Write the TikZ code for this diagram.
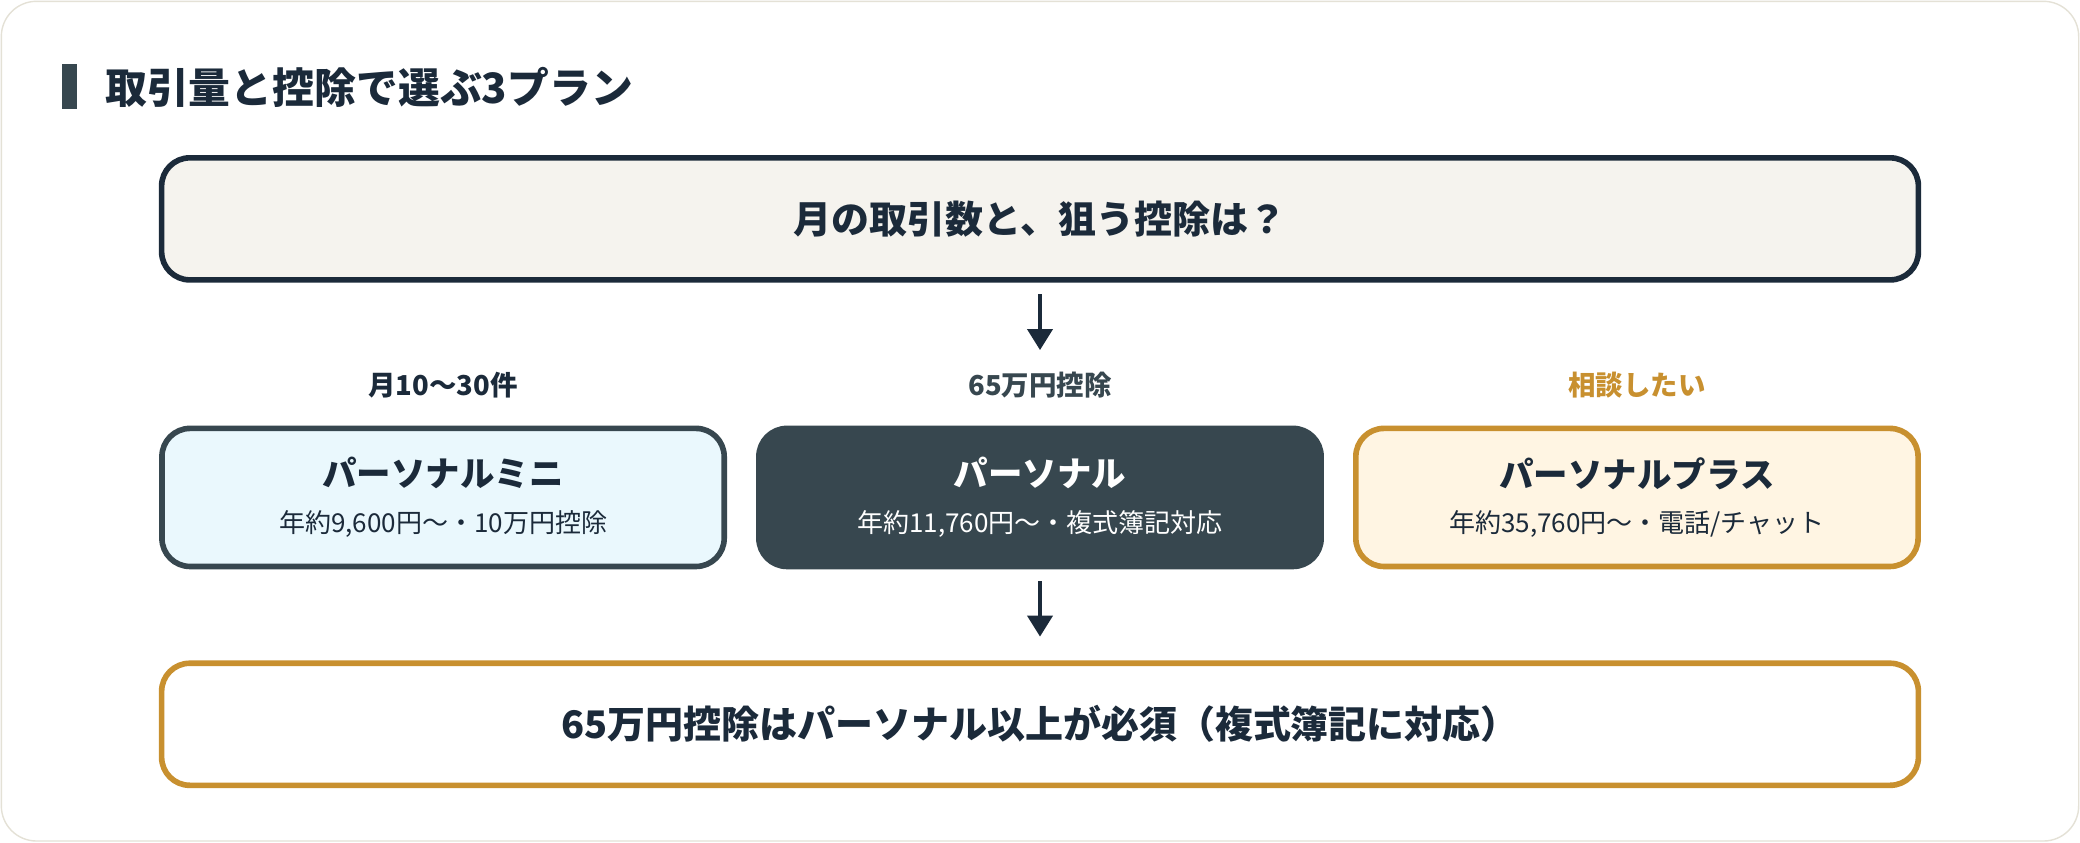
\documentclass[tikz,border=0pt]{standalone}
\usepackage{fontspec}
\setmainfont{Noto Sans CJK JP}
\usetikzlibrary{positioning, arrows.meta}
\definecolor{navy}{HTML}{1B2A3A}
\definecolor{slate}{HTML}{37474F}
\definecolor{gold}{HTML}{C8902F}
\definecolor{paper}{HTML}{F5F3EE}
\definecolor{sky}{HTML}{EAF8FD}
\definecolor{cream}{HTML}{FFF5E3}
\definecolor{frame}{HTML}{E4E1D6}
\tikzset{
    wide/.style={rectangle, rounded corners=8pt, line width=1.6pt, minimum width=17.56cm, minimum height=1.22cm, align=center, font=\bfseries\fontsize{10.8}{13}\selectfont, text=navy},
    plan/.style={rectangle, rounded corners=8pt, line width=1.6pt, minimum width=5.62cm, minimum height=1.38cm, align=center, text=navy},
    tag/.style={font=\bfseries\fontsize{7.8}{9}\selectfont},
    arrow/.style={-{Triangle[length=6pt, width=7pt]}, line width=1.4pt, draw=navy}
}
\newcommand{\plantext}[2]{{\bfseries\fontsize{9.8}{12}\selectfont #1}\\[1pt]{\fontsize{7.4}{9}\selectfont #2}}

\begin{document}
\begin{tikzpicture}[x=0.013265cm, y=-0.013265cm]
    % Frame
    \draw[frame, fill=white, rounded corners=10pt] (1,1) rectangle (1567,634);
    \useasboundingbox (0,0) rectangle (1568,635);

    % Title
    \fill[slate] (47,48) rectangle (58,82);
    \node[anchor=west, font=\bfseries\fontsize{11.9}{14}\selectfont, text=navy] (title) at (70,66) {取引量と控除で選ぶ3プラン};

    % Question
    \node[wide, draw=navy, fill=paper] (ask) at (784,165) {月の取引数と、狙う控除は？};

    % Plans
    \node[plan, draw=slate, fill=sky] (mini) at (334,375) {\plantext{パーソナルミニ}{年約9,600円〜・10万円控除}};
    \node[plan, draw=slate, fill=slate, text=white] (std) at (784,375) {\plantext{パーソナル}{年約11,760円〜・複式簿記対応}};
    \node[plan, draw=gold, fill=cream] (plus) at (1234,375) {\plantext{パーソナルプラス}{年約35,760円〜・電話/チャット}};

    % Tags
    \node[tag, text=navy, above=0.15cm of mini] (tmini) {月10〜30件};
    \node[tag, text=slate, above=0.15cm of std] (tstd) {65万円控除};
    \node[tag, text=gold, above=0.15cm of plus] (tplus) {相談したい};

    % Result
    \node[wide, draw=gold, fill=white] (res) at (784,546) {65万円控除はパーソナル以上が必須（複式簿記に対応）};

    % Arrows
    \coordinate (a1) at (784,222);
    \coordinate (a2) at (784,264);
    \coordinate (b1) at (784,438);
    \coordinate (b2) at (784,480);
    \draw[arrow] (a1) -- (a2);
    \draw[arrow] (b1) -- (b2);
\end{tikzpicture}
\end{document}
